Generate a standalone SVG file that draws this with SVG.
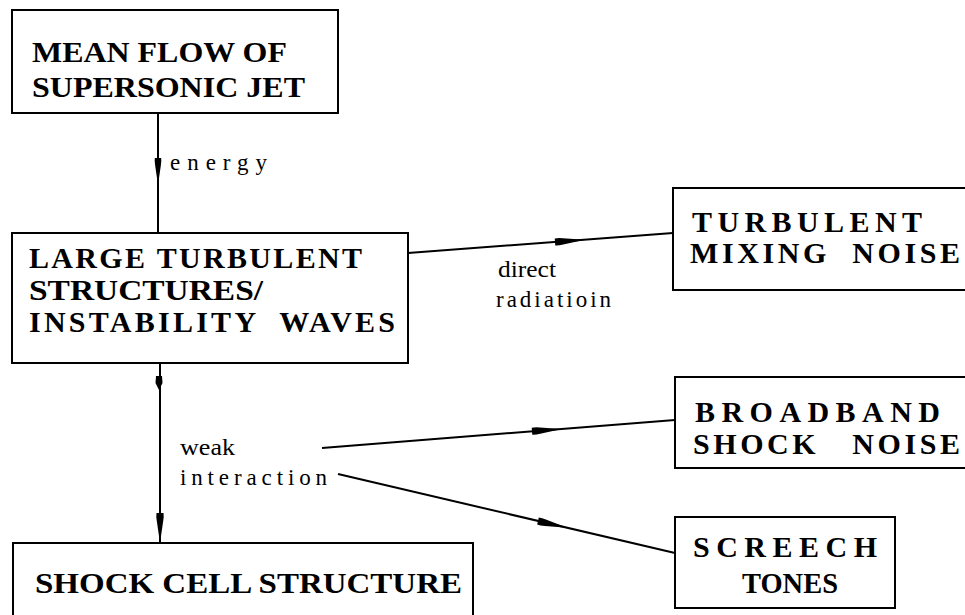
<svg xmlns="http://www.w3.org/2000/svg" xmlns:xlink="http://www.w3.org/1999/xlink" width="965" height="615" viewBox="0 0 965 615">
<style>
.box{fill:#fff;stroke:#000;stroke-width:2}
.bt{font-family:"Liberation Serif","Times New Roman",serif;font-weight:bold;font-size:30px;fill:#000}
.lb{font-family:"Liberation Serif","Times New Roman",serif;font-size:23px;fill:#000}
.ln{fill:none;stroke:#000;stroke-width:2}
</style>
<defs>
<path id="ah" d="M0,-3.5 Q3,-4 8,-3.2 L30,0 L8,3.2 Q3,4 0,3.5 Z" fill="#000"/>
<path id="ahs" d="M0,-3 L7,-3.5 L14,0 L7,3.5 L0,3 Z" fill="#000"/>
</defs>
<rect width="965" height="615" fill="#fff"/>
<g id="connectors">
<line class="ln" x1="158" y1="113" x2="158" y2="233"/>
<use href="#ah" transform="translate(158,158) rotate(90) scale(0.9,0.9)"/>
<text class="lb" x="170" y="170" textLength="97" lengthAdjust="spacing">energy</text>
<line class="ln" x1="160" y1="363" x2="160" y2="543"/>
<use href="#ahs" transform="translate(159,376) rotate(90)"/>
<use href="#ah" transform="translate(160,513) rotate(90)"/>
<text class="lb" x="180" y="455" textLength="55" lengthAdjust="spacingAndGlyphs">weak</text>
<text class="lb" x="180" y="485" textLength="147" lengthAdjust="spacing">interaction</text>
<line class="ln" x1="408" y1="253" x2="673" y2="233"/>
<use href="#ah" transform="translate(555,242) rotate(-4.3)"/>
<text class="lb" x="498" y="277" textLength="58" lengthAdjust="spacingAndGlyphs">direct</text>
<text class="lb" x="496" y="307" textLength="115" lengthAdjust="spacing">radiatioin</text>
<line class="ln" x1="322" y1="448" x2="675" y2="420"/>
<use href="#ah" transform="translate(532,431.3) rotate(-4.56)"/>
<line class="ln" x1="338" y1="474" x2="675" y2="553"/>
<use href="#ah" transform="translate(538,521) rotate(13.2)"/>
</g>
<g id="mean-flow">
<rect class="box" x="12" y="10" width="326" height="103"/>
<text class="bt" x="32" y="62" textLength="255" lengthAdjust="spacingAndGlyphs">MEAN FLOW OF</text>
<text class="bt" x="32" y="97" textLength="273" lengthAdjust="spacingAndGlyphs">SUPERSONIC JET</text>
</g>
<g id="large-turbulent">
<rect class="box" x="12" y="233" width="396" height="130"/>
<text class="bt" x="29" y="268" textLength="333" lengthAdjust="spacing">LARGE TURBULENT</text>
<text class="bt" x="29" y="300" textLength="234" lengthAdjust="spacingAndGlyphs">STRUCTURES/</text>
<text class="bt" x="29" y="332" textLength="366" lengthAdjust="spacing" xml:space="preserve">INSTABILITY  WAVES</text>
</g>
<g id="turbulent-mixing">
<rect class="box" x="673" y="188" width="310" height="102"/>
<text class="bt" x="692" y="232" textLength="230" lengthAdjust="spacing">TURBULENT</text>
<text class="bt" x="690" y="263" textLength="270" lengthAdjust="spacing" xml:space="preserve">MIXING  NOISE</text>
</g>
<g id="broadband">
<rect class="box" x="675" y="377" width="310" height="91"/>
<text class="bt" x="695" y="422" textLength="245" lengthAdjust="spacing">BROADBAND</text>
<text class="bt" x="693" y="454" textLength="267" lengthAdjust="spacing" xml:space="preserve">SHOCK   NOISE</text>
</g>
<g id="screech">
<rect class="box" x="675" y="517" width="220" height="91"/>
<text class="bt" x="693" y="557" textLength="184" lengthAdjust="spacing">SCREECH</text>
<text class="bt" x="742" y="593" textLength="96" lengthAdjust="spacingAndGlyphs">TONES</text>
</g>
<g id="shock-cell">
<rect class="box" x="13" y="543" width="460" height="90"/>
<text class="bt" x="35" y="593" textLength="427" lengthAdjust="spacingAndGlyphs">SHOCK CELL STRUCTURE</text>
</g>
</svg>
